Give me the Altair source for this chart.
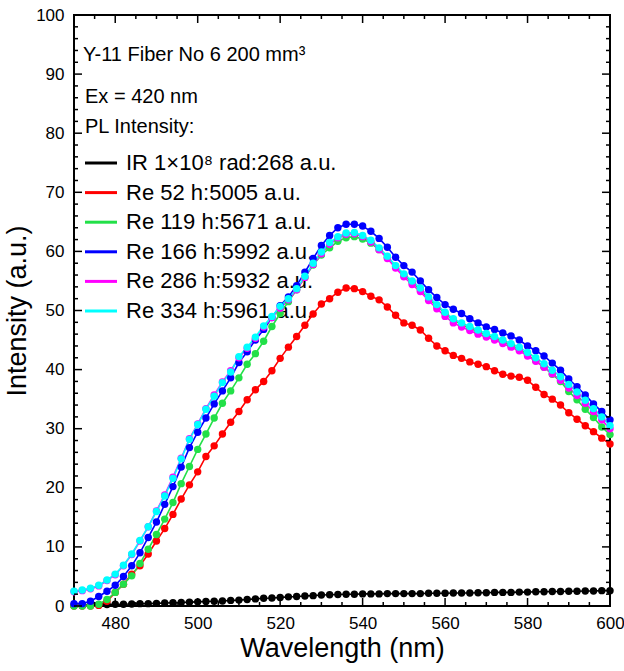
import altair as alt
import pandas as pd

# ---------------- data ----------------
wavelength = list(range(470, 602, 2))

ir = [0.1, 0.1, 0.15, 0.2, 0.25, 0.3, 0.3, 0.35, 0.4, 0.4, 0.45, 0.5, 0.55, 0.6, 0.65, 0.7,
      0.75, 0.8, 0.85, 0.95, 1.0, 1.1, 1.2, 1.3, 1.35, 1.45, 1.55, 1.6, 1.7, 1.75, 1.85, 1.9,
      1.95, 2.0, 2.0, 2.05,
      2.05, 2.05, 2.1, 2.1, 2.1, 2.1, 2.1, 2.15, 2.15, 2.15, 2.2, 2.2, 2.2, 2.25, 2.25, 2.3,
      2.3, 2.3, 2.35, 2.35, 2.4, 2.4, 2.45, 2.45, 2.5, 2.5, 2.55, 2.55, 2.6, 2.6]

re52 = [0.0, 0.0, 0.0, 0.1, 0.8, 2.3, 3.7, 5.4, 6.8, 8.8, 11.0, 13.1, 15.5, 18.1, 20.5, 22.7,
        25.3, 27.1, 29.1, 31.1, 32.9, 34.9, 36.6, 38.0, 39.8, 41.9, 43.8, 45.6, 47.5, 49.4,
        51.1, 52.0, 53.1, 53.8, 53.7, 53.2,
        52.4, 51.8, 50.6, 49.2, 47.9, 47.5, 46.7, 45.3, 44.0,
        43.2, 42.4, 41.9, 41.3, 40.9, 40.5, 39.8, 39.2, 38.9, 38.7, 38.2, 37.0, 35.8, 35.0,
        34.0, 32.7, 31.6, 30.5, 29.5, 28.4, 27.4]

re119 = [0.0, 0.0, 0.0, 0.3, 1.1, 2.3, 3.7, 5.1, 7.2, 9.6, 12.1, 14.7, 17.5, 20.7, 23.6, 26.5,
         29.1, 31.8, 34.3, 36.4, 38.6, 40.9, 42.7, 44.8, 47.3, 49.5, 51.5, 53.5, 55.6, 57.7,
         59.4, 60.6, 61.7, 62.3, 62.5, 62.1,
         61.4, 60.3, 59.0, 57.5, 56.0, 54.8, 53.5, 52.0, 50.8,
         49.5, 48.4, 47.6, 47.0, 46.4, 45.8, 45.3, 44.7, 44.1, 43.5, 42.5, 41.5, 40.4, 39.2,
         38.0, 36.3, 34.9, 33.3, 31.9, 30.3, 29.0]

re166 = [0.4, 0.4, 0.8, 1.6, 2.5, 3.5, 5.0, 6.8, 9.0, 11.6, 14.2, 17.2, 20.2, 23.5, 26.8, 29.4,
         31.8, 34.2, 36.4, 38.6, 41.2, 43.0, 45.0, 46.8, 48.8, 50.8, 52.3, 54.2, 56.5, 58.8,
         61.0, 62.7, 64.0, 64.6, 64.6, 64.3,
         63.4, 62.2, 60.7, 59.0, 57.6, 56.5, 55.0, 53.5, 52.2,
         51.0, 50.2, 49.5, 48.6, 47.9, 47.2, 46.8, 46.2, 45.7, 45.0, 44.0, 43.2, 42.3, 41.1,
         39.9, 38.4, 37.1, 35.7, 34.2, 32.9, 31.5]

re286 = [2.4, 2.6, 2.9, 3.4, 4.3, 5.3, 6.8, 8.7, 11.0, 13.4, 16.1, 18.8, 21.8, 25.0, 28.3, 30.8,
         33.4, 35.7, 37.9, 39.8, 42.0, 43.6, 45.3, 47.2, 48.8, 50.4, 51.8, 53.5, 55.6, 57.8,
         59.6, 61.2, 62.3, 62.9, 63.0, 62.5,
         61.6, 60.3, 58.8, 57.2, 55.7, 54.4, 53.2, 51.7, 50.3,
         49.0, 47.9, 47.2, 46.6, 46.0, 45.5, 45.0, 44.4, 43.8, 43.2, 42.3, 41.4, 40.4, 39.3,
         38.2, 36.9, 35.6, 34.3, 32.9, 31.5, 30.0]

re334 = [2.5, 2.7, 3.0, 3.5, 4.4, 5.4, 6.9, 8.8, 11.1, 13.4, 16.0, 18.6, 21.6, 24.9, 28.2, 30.7,
         33.3, 35.5, 37.8, 39.6, 42.2, 43.8, 45.5, 47.4, 49.0, 50.7, 52.0, 53.7, 55.8, 58.0,
         59.9, 61.5, 62.5, 63.1, 63.2, 62.7,
         61.9, 60.6, 59.2, 57.6, 56.2, 55.0, 53.8, 52.3, 51.0,
         49.7, 48.6, 47.9, 47.3, 46.7, 46.1, 45.6, 45.0, 44.4, 43.8, 42.9, 42.0, 41.0, 39.9,
         38.8, 37.5, 36.2, 34.8, 33.4, 32.0, 30.5]

series_values = [ir, re52, re119, re166, re286, re334]
labels = ["IR 1×10⁸ rad:268 a.u.", "Re 52 h:5005 a.u.", "Re 119 h:5671 a.u.",
          "Re 166 h:5992 a.u.", "Re 286 h:5932 a.u.", "Re 334 h:5961 a.u."]
colors = ["#000000", "#ff0000", "#22e048", "#0000ff", "#ff00ff", "#00ffff"]

header_lines = ["Y-11 Fiber No 6 200 mm³", "Ex = 420 nm", "PL Intensity:"]

x_major = [480, 500, 520, 540, 560, 580, 600]
y_major = [0, 10, 20, 30, 40, 50, 60, 70, 80, 90, 100]
x_minor = [v for v in range(475, 600, 5) if v % 20 != 0]
y_minor = [v for v in range(2, 100, 2) if v % 10 != 0]

# ---------------- tables ----------------
rows = []
for lab, vals in zip(labels, series_values):
    for w, v in zip(wavelength, vals):
        rows.append({"wavelength": w, "value": v, "series": lab})
df = pd.DataFrame(rows)

legend_df = pd.DataFrame({"series": labels, "row": list(range(len(labels)))})

W, H = 536, 591
FONT = "Liberation Sans"

xscale = alt.Scale(domain=[470, 600], nice=False, zero=False)
yscale = alt.Scale(domain=[0, 100], nice=False, zero=False)
cscale = alt.Scale(domain=labels, range=colors)

xaxis = alt.Axis(values=x_major, title="Wavelength (nm)", ticks=False, domain=False, grid=False,
                 labelFontSize=17, labelPadding=9, labelFlush=False, labelOverlap=False,
                 titleFontSize=27, titleFontWeight="normal", titlePadding=4,
                 labelFont=FONT, titleFont=FONT, labelColor="black", titleColor="black",
                 format="d")
yaxis = alt.Axis(values=y_major, title="Intensity (a.u.)", ticks=False, domain=False, grid=False,
                 labelFontSize=17, labelPadding=10, labelFlush=False, labelOverlap=False,
                 titleFontSize=27, titleFontWeight="normal", titlePadding=4,
                 labelFont=FONT, titleFont=FONT, labelColor="black", titleColor="black",
                 format="d")

X = alt.X("wavelength:Q", scale=xscale, axis=xaxis)
Y = alt.Y("value:Q", scale=yscale, axis=yaxis)
C = alt.Color("series:N", scale=cscale, legend=None)

lines = alt.Chart(df).mark_line(strokeWidth=1.6).encode(x=X, y=Y, color=C, detail="series:N")
points = alt.Chart(df).mark_circle(size=55, opacity=1).encode(x=X, y=Y, color=C)

def xticks(vals, length):
    d = pd.DataFrame({"wavelength": vals})
    bottom = alt.Chart(d).mark_rule(color="black", strokeWidth=1.5).encode(
        x=X, y=alt.value(H), y2=alt.value(H - length))
    top = alt.Chart(d).mark_rule(color="black", strokeWidth=1.5).encode(
        x=X, y=alt.value(0), y2=alt.value(length))
    return [bottom, top]

def yticks(vals, length):
    d = pd.DataFrame({"value": vals})
    left = alt.Chart(d).mark_rule(color="black", strokeWidth=1.5).encode(
        y=Y, x=alt.value(0), x2=alt.value(length))
    right = alt.Chart(d).mark_rule(color="black", strokeWidth=1.5).encode(
        y=Y, x=alt.value(W), x2=alt.value(W - length))
    return [left, right]

data_group = alt.layer(
    lines, points,
    *xticks(x_major, 8), *xticks(x_minor, 4),
    *yticks(y_major, 8), *yticks(y_minor, 4),
)

# ---------------- legend ----------------
LY = alt.Y("row:Q", scale=alt.Scale(domain=[0, 5], range=[148, 296]), axis=None)
leg_lines = alt.Chart(legend_df).mark_rule(strokeWidth=3).encode(
    x=alt.value(11), x2=alt.value(43), y=LY, color=C)
leg_text = alt.Chart(legend_df).mark_text(
    align="left", baseline="middle", fontSize=22, font=FONT, color="black").encode(
    x=alt.value(52), y=LY, text="series:N")

hdr = []
for txt, xp, yp in zip(header_lines, [9, 11, 11], [40, 82, 112]):
    hdr.append(alt.Chart(pd.DataFrame({"t": [txt]})).mark_text(
        align="left", baseline="middle", fontSize=20, font=FONT, color="black").encode(
        x=alt.value(xp), y=alt.value(yp), text="t:N"))

legend_group = alt.layer(*hdr, leg_lines, leg_text)

chart = alt.layer(legend_group, data_group).resolve_scale(y="independent").properties(
    width=W, height=H,
    autosize=alt.AutoSizeParams(type="none"),
    padding={"left": 74, "top": 15, "right": 14, "bottom": 65},
    background="white",
).configure_view(stroke="black", strokeWidth=2)

chart.save("out.html", embed_options={"renderer": "svg", "actions": False})
